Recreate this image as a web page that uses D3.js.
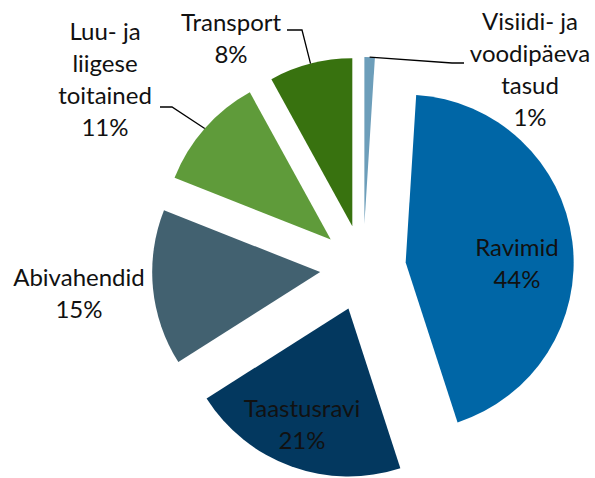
<!DOCTYPE html>
<html>
<head>
<meta charset="utf-8">
<script src="https://cdn.jsdelivr.net/npm/d3@7"></script>
<style>
  body { margin: 0; background: #fff; }
  svg text { font-family: Lato, "Open Sans", sans-serif; fill: #111; }
</style>
</head>
<body>
<div id="chart"></div>
<script>
const width = 595;
const height = 478;

// Data
const categories = ["Visiidi- ja voodipäeva tasud", "Ravimid", "Taastusravi", "Abivahendid", "Luu- ja liigese toitained", "Transport"];
const values = [1, 44, 21, 15, 11, 8];
const colors = ["#6d9eba", "#0066a6", "#03385f", "#426170", "#5f9b3a", "#38720f"];

// Label text lines (as in the original chart)
const labelLines = [
  ["Visiidi- ja", "voodipäeva", "tasud", "1%"],
  ["Ravimid", "44%"],
  ["Taastusravi", "21%"],
  ["Abivahendid", "15%"],
  ["Luu- ja", "liigese", "toitained", "11%"],
  ["Transport", "8%"]
];

// Label layout: centre x, first baseline y, leader line points (null = no leader)
const labelLayout = [
  { x: 530, y: 30, leader: [[464, 63], [452, 63]] },
  { x: 517, y: 256, leader: null },
  { x: 302, y: 417, leader: null },
  { x: 79, y: 286, leader: null },
  { x: 105, y: 40, leader: [[160, 107], [172, 107]] },
  { x: 231, y: 31, leader: [[287, 30], [302, 30]] }
];

const cx = 363, cy = 268;
const radius = 168;
const explode = 43;
const lineHeight = 32;

const svg = d3.select("#chart")
  .append("svg")
  .attr("width", width)
  .attr("height", height);

const pie = d3.pie().sort(null).value(d => d)(values);
const arc = d3.arc().innerRadius(0).outerRadius(radius);

const g = svg.append("g").attr("transform", `translate(${cx},${cy})`);

// slice offset from centre
const offset = d => {
  const a = (d.startAngle + d.endAngle) / 2;
  return [explode * Math.sin(a), -explode * Math.cos(a)];
};

g.selectAll("path")
  .data(pie)
  .enter().append("path")
  .attr("d", arc)
  .attr("fill", (d, i) => colors[i])
  .attr("transform", d => `translate(${offset(d)})`);

// Leader lines
pie.forEach((d, i) => {
  const lay = labelLayout[i];
  if (!lay.leader) return;
  const a = (d.startAngle + d.endAngle) / 2;
  const [ox, oy] = offset(d);
  const end = [cx + ox + radius * Math.sin(a), cy + oy - radius * Math.cos(a)];
  const pts = lay.leader.concat([end]);
  svg.append("path")
    .attr("d", d3.line()(pts))
    .attr("fill", "none")
    .attr("stroke", "#000")
    .attr("stroke-width", 1.3);
});

// Labels
labelLines.forEach((lines, i) => {
  const lay = labelLayout[i];
  const t = svg.append("text")
    .attr("text-anchor", "middle")
    .attr("font-size", "24px");
  lines.forEach((line, j) => {
    t.append("tspan")
      .attr("x", lay.x)
      .attr("y", lay.y + j * lineHeight)
      .text(line);
  });
});
</script>
</body>
</html>
